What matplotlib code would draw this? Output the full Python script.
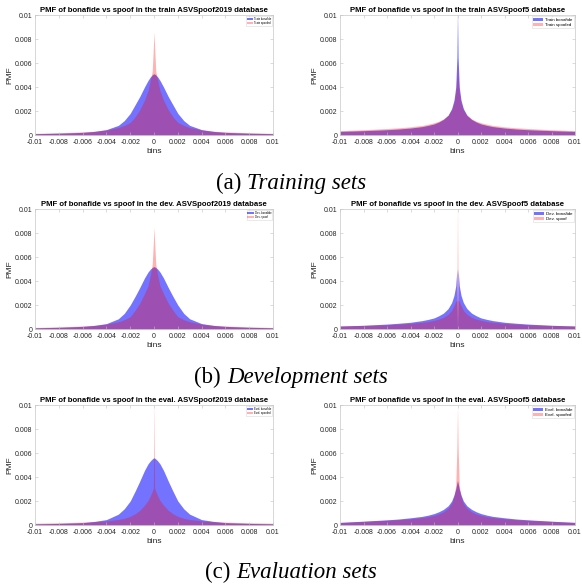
import numpy as np
from matplotlib import pyplot as plt

plt.rcParams['font.family'] = ['Liberation Sans', 'DejaVu Sans']

# positive half of the bin axis (histograms are drawn mirrored around 0)
half_x = [0, 0.00005, 0.00015, 0.0003, 0.0005, 0.0008, 0.0012, 0.0016,
          0.002, 0.0025, 0.003, 0.004, 0.005, 0.006, 0.008, 0.01]

# PMF values, in units of 1e-3, read at half_x
train19_bona = [5.1, 5.08, 5.0, 4.85, 4.55, 4.0, 3.2, 2.5, 1.8, 1.2, 0.8, 0.45, 0.3, 0.22, 0.15, 0.11]
train19_spoof = [8.6, 7.4, 5.3, 4.6, 3.7, 2.9, 2.1, 1.5, 1.05, 0.8, 0.62, 0.42, 0.32, 0.26, 0.19, 0.14]
train5_bona = [10.5, 6.5, 4.0, 2.9, 2.2, 1.65, 1.3, 1.08, 0.92, 0.8, 0.7, 0.58, 0.5, 0.44, 0.36, 0.3]
train5_spoof = [6.2, 5.0, 3.6, 2.7, 2.1, 1.65, 1.35, 1.15, 1.02, 0.9, 0.8, 0.68, 0.6, 0.54, 0.44, 0.36]
dev19_bona = [5.2, 5.18, 5.12, 5.0, 4.75, 4.25, 3.45, 2.7, 2.0, 1.3, 0.85, 0.45, 0.3, 0.22, 0.14, 0.1]
dev19_spoof = [8.5, 7.3, 5.4, 4.5, 3.6, 2.95, 2.15, 1.55, 1.02, 0.78, 0.6, 0.41, 0.31, 0.25, 0.18, 0.13]
dev5_bona = [0.0, 5.0, 3.6, 2.8, 2.2, 1.7, 1.32, 1.1, 0.92, 0.8, 0.7, 0.56, 0.48, 0.41, 0.31, 0.25]
dev5_spoof = [10.5, 2.4, 2.3, 1.95, 1.55, 1.22, 0.97, 0.82, 0.72, 0.62, 0.56, 0.47, 0.41, 0.36, 0.3, 0.26]
eval19_bona = [5.6, 5.58, 5.5, 5.35, 5.1, 4.55, 3.65, 2.8, 2.0, 1.35, 0.9, 0.45, 0.3, 0.2, 0.13, 0.1]
eval19_spoof = [10.5, 3.1, 2.8, 2.45, 2.05, 1.65, 1.22, 0.93, 0.72, 0.56, 0.46, 0.34, 0.28, 0.24, 0.19, 0.15]
eval5_bona = [3.7, 3.5, 3.0, 2.5, 2.0, 1.6, 1.3, 1.1, 0.95, 0.82, 0.72, 0.6, 0.5, 0.43, 0.32, 0.22]
eval5_spoof = [9.9, 6.5, 3.3, 2.4, 1.8, 1.4, 1.1, 0.92, 0.8, 0.7, 0.62, 0.52, 0.45, 0.4, 0.3, 0.21]

titles = [
    'PMF of bonafide vs spoof in the train ASVSpoof2019 database',
    'PMF of bonafide vs spoof in the train ASVSpoof5 database',
    'PMF of bonafide vs spoof in the dev. ASVSpoof2019 database',
    'PMF of bonafide vs spoof in the dev. ASVSpoof5 database',
    'PMF of bonafide vs spoof in the eval. ASVSpoof2019 database',
    'PMF of bonafide vs spoof in the eval. ASVSpoof5 database',
]
legends = [
    ('Train bonafide', 'Train spoofed'),
    ('Train bonafide', 'Train spoofed'),
    ('Dev. bonafide', 'Dev. spoof'),
    ('Dev. bonafide', 'Dev. spoof'),
    ('Eval. bonafide', 'Eval. spoofed'),
    ('Eval. bonafide', 'Eval. spoofed'),
]
series = [
    (train19_bona, train19_spoof), (train5_bona, train5_spoof),
    (dev19_bona, dev19_spoof), (dev5_bona, dev5_spoof),
    (eval19_bona, eval19_spoof), (eval5_bona, eval5_spoof),
]
captions = [('(a) ', 'Training sets'), ('(b) ', 'Development sets'), ('(c) ', 'Evaluation sets')]

xticks = [-0.01, -0.008, -0.006, -0.004, -0.002, 0, 0.002, 0.004, 0.006, 0.008, 0.01]
xtick_lbl = ['-0.01', '-0.008', '-0.006', '-0.004', '-0.002', '0',
             '0.002', '0.004', '0.006', '0.008', '0.01']
yticks = [0, 0.002, 0.004, 0.006, 0.008, 0.01]
ytick_lbl = ['0', '0.002', '0.004', '0.006', '0.008', '0.01']


def mirror(v):
    v = np.asarray(v, dtype=float)
    return np.concatenate([v[:0:-1], v])


W, H = 582, 586
fig = plt.figure(figsize=(W / 100, H / 100), dpi=100)

xs = np.concatenate([-np.asarray(half_x)[:0:-1], half_x])
col_left = [(35, 238), (340, 235)]
row_top = [15, 209, 405]
ax_h = 120

for i in range(6):
    r, c = divmod(i, 2)
    x0, w = col_left[c]
    ax = fig.add_axes([x0 / W, 1 - (row_top[r] + ax_h) / H, w / W, ax_h / H])
    bona, spoof = series[i]
    ax.fill_between(xs, 0, mirror(bona) * 1e-3, color='#0000ff', alpha=0.55,
                    linewidth=0, label=legends[i][0])
    ax.fill_between(xs, 0, mirror(spoof) * 1e-3, color='#ff0000', alpha=0.3,
                    linewidth=0, label=legends[i][1])
    ax.set_xlim(-0.01, 0.01)
    ax.set_ylim(0, 0.01)
    ax.set_xticks(xticks)
    ax.set_xticklabels(xtick_lbl)
    ax.set_yticks(yticks)
    ax.set_yticklabels(ytick_lbl)
    ax.tick_params(direction='in', length=2, width=0.4, colors='#c0c0c0',
                   labelcolor='#262626', labelsize=5.0, pad=2,
                   top=True, right=True)
    ax.tick_params(axis='x', pad=3.2)
    for sp in ax.spines.values():
        sp.set_color('#c8c8c8')
        sp.set_linewidth(0.5)
    ax.set_title(titles[i], fontsize=5.6, fontweight='bold', pad=2.5)
    ax.set_xlabel('bins', fontsize=6.0, color='#262626', labelpad=1.0)
    ax.set_ylabel('PMF', fontsize=6.0, color='#262626', labelpad=1)
    fs = 2.0 if c == 0 else 3.2
    leg = ax.legend(loc='upper right', fontsize=fs, frameon=True, fancybox=False,
                    borderaxespad=0.3, handlelength=2.2, handleheight=0.9,
                    borderpad=0.3, labelspacing=0.15, handletextpad=0.4)
    leg.get_frame().set_edgecolor('#d0d0d0')
    leg.get_frame().set_linewidth(0.4)

# sub-captions below each row
cap_y = [183, 377, 572]
fig.canvas.draw()
rend = fig.canvas.get_renderer()
for (pre, txt), yc in zip(captions, cap_y):
    t1 = fig.text(0, 1 - yc / H, pre, family='Liberation Serif', fontsize=16.5, va='center')
    t2 = fig.text(0, 1 - yc / H, txt, family='Liberation Serif', style='italic',
                  fontsize=16.5, va='center')
    w1 = t1.get_window_extent(rend).width
    w2 = t2.get_window_extent(rend).width
    start = W / 2 - (w1 + w2) / 2
    t1.set_x(start / W)
    t2.set_x((start + w1) / W)

fig.savefig('out.png', dpi=100)
